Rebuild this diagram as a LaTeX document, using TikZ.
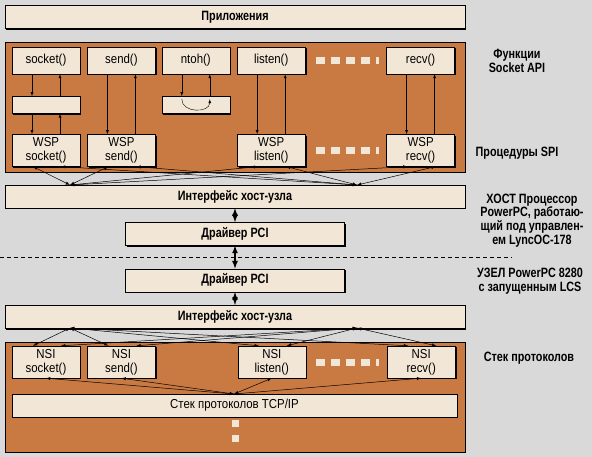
\documentclass[tikz,border=0pt]{standalone}
\usepackage{fontspec}
\setmainfont{Liberation Sans}
\newfontfamily\lblfont{Liberation Sans}[FakeStretch=0.8]
\newfontfamily\fnfont{Liberation Sans}[FakeStretch=0.88]
\usepackage{tikz}
\usetikzlibrary{positioning,shadows,arrows.meta}
\definecolor{bggray}{HTML}{D9D9D9}
\definecolor{cream}{HTML}{F2E6D6}
\definecolor{rust}{HTML}{C97A43}

\begin{document}
\begin{tikzpicture}[x=1pt,y=-1pt,>=latex,thin,node distance=7pt]
    \tikzstyle{shade}=[drop shadow={shadow xshift=1.3pt,shadow yshift=-1.3pt,fill=black,opacity=1}]
    \tikzstyle{box}=[draw=black,fill=cream,shade,inner sep=0pt,minimum width=68pt,align=center,font=\fnfont\fontsize{13}{14}\selectfont]
    \tikzstyle{bar}=[draw=black,fill=cream,shade,inner sep=0pt,minimum height=23pt,font=\lblfont\bfseries\fontsize{13.5}{14}\selectfont]
    \tikzstyle{panel}=[draw=black,fill=rust,shade,inner sep=0pt,minimum width=460pt]
    \tikzstyle{lbl}=[align=center,font=\lblfont\bfseries\fontsize{13.5}{13.8}\selectfont]
    \tikzstyle{fan}=[<->,line width=0.5pt]
    \tikzstyle{dbl}=[<->,line width=1.6pt]
    \fill[bggray] (0,0) rectangle (592,457);
    \useasboundingbox (0,0) rectangle (592,457);

    % upper part: Socket API and SPI
    \node[bar,minimum width=460pt] (apps)   at (235,17)   {Приложения};
    \node[panel,minimum height=130pt] (api) at (235,107)  {};
    \node[box,minimum height=27pt] (sock)   at (46,60.5)  {socket()};
    \node[box,minimum height=27pt] (send)   [right=of sock]       {send()};
    \node[box,minimum height=27pt] (ntoh)   [right=6pt of send]   {ntoh()};
    \node[box,minimum height=27pt] (listen) [right=of ntoh]       {listen()};
    \node[box,minimum height=27pt] (recv)   [right=81pt of listen] {recv()};
    \node[box,minimum height=17pt] (sockmid) [below=22pt of sock] {};
    \node[box,minimum height=17pt] (ntohmid) [below=22pt of ntoh] {};
    \node[box,minimum height=32pt] (wsock)   [below=60pt of sock]   {WSP\\socket()};
    \node[box,minimum height=32pt] (wsend)   [below=60pt of send]   {WSP\\send()};
    \node[box,minimum height=32pt] (wlisten) [below=60pt of listen] {WSP\\listen()};
    \node[box,minimum height=32pt] (wrecv)   [below=60pt of recv]   {WSP\\recv()};

    % host and node interfaces
    \node[bar,minimum width=460pt] (host1) at (235,196.5)    {Интерфейс хост-узла};
    \node[bar,minimum width=219pt] (pci1)  [below=14pt of host1] {Драйвер PCI};
    \node[bar,minimum width=219pt] (pci2)  [below=23pt of pci1]  {Драйвер PCI};
    \node[bar,minimum width=460pt] (host2) [below=13pt of pci2]  {Интерфейс хост-узла};

    % lower part: protocol stack
    \node[panel,minimum height=110pt] (stack) at (235,397) {};
    \node[box,minimum height=32pt] (nsock)   at (46,362)          {NSI\\socket()};
    \node[box,minimum height=32pt] (nsend)   [right=of nsock]     {NSI\\send()};
    \node[box,minimum height=32pt] (nlisten) [right=82pt of nsend] {NSI\\listen()};
    \node[box,minimum height=32pt] (nrecv)   [right=81pt of nlisten] {NSI\\recv()};
    \node[box,minimum width=445pt,minimum height=23pt] (tcp) at (234.5,405.5) {Стек протоколов TCP/IP};

    % dots
    \foreach \y in {57,147,359} {
        \foreach \x in {316,331,346,361}
            \fill[cream] (\x,\y) rectangle ++(9,7);
        \fill[cream] (376,\y) rectangle ++(3,7);
    }
    \foreach \y in {420,435}
        \fill[cream] (232,\y) rectangle ++(7,7);

    % calls down and back up
    \draw[->] ([xshift=-14pt]sock.south) -- ([xshift=-14pt]sockmid.north);
    \draw[->] ([xshift=14pt]sockmid.north) -- ([xshift=14pt]sock.south);
    \draw[->] ([xshift=-14pt]sockmid.south) -- ([xshift=-14pt]wsock.north);
    \draw[->] ([xshift=14pt]wsock.north) -- ([xshift=14pt]sockmid.south);
    \draw[->] ([xshift=-14pt]ntoh.south) -- ([xshift=-14pt]ntohmid.north);
    \draw[->] ([xshift=14pt]ntohmid.north) -- ([xshift=14pt]ntoh.south);
    \draw[->] ([xshift=-14pt,yshift=-3pt]ntohmid.north) .. controls +(0,14) and +(0,14) .. ([xshift=14pt,yshift=-3pt]ntohmid.north);
    \foreach \n in {send,listen,recv} {
        \draw[->] ([xshift=-14pt]\n.south) -- ([xshift=-14pt]w\n.north);
        \draw[->] ([xshift=14pt]w\n.north) -- ([xshift=14pt]\n.south);
    }

    % fans to the host interfaces
    \coordinate (upl) at (70,185);
    \coordinate (upr) at (357,185);
    \coordinate (lol) at (70,328);
    \coordinate (lor) at (357,328);
    \coordinate (tcpin) at (234,394);
    \foreach \n in {sock,send,listen,recv} {
        \draw[fan] ([xshift=-13pt]w\n.south) -- (upl);
        \draw[fan] ([xshift=15pt]w\n.south) -- (upr);
        \draw[fan] ([xshift=-13pt]n\n.north) -- (lol);
        \draw[fan] ([xshift=15pt]n\n.north) -- (lor);
        \draw[fan] (n\n.south) -- (tcpin);
    }
    \draw[dbl] (host1.south -| pci1.north) -- (pci1.north);
    \draw[dbl] (pci1.south) -- (pci2.north);
    \draw[dbl] (pci2.south) -- (host2.north -| pci2.south);
    \draw[dashed,dash pattern=on 4pt off 3pt] (0,257) -- (512,257);

    % labels on the right
    \node[lbl] (apilbl)   at (517,61)    {Функции\\Socket API};
    \node[lbl] (spilbl)   at (517,153)   {Процедуры SPI};
    \node[lbl] (hostlbl)  at (532,220.5) {ХОСТ Процессор\\PowerPC, работаю-\\щий под управлен-\\ем LyncOC-178};
    \node[lbl] (nodelbl)  at (530,281)   {УЗЕЛ PowerPC 8280\\с запущенным LCS};
    \node[lbl] (stacklbl) at (529,358)   {Стек протоколов};
\end{tikzpicture}
\end{document}
